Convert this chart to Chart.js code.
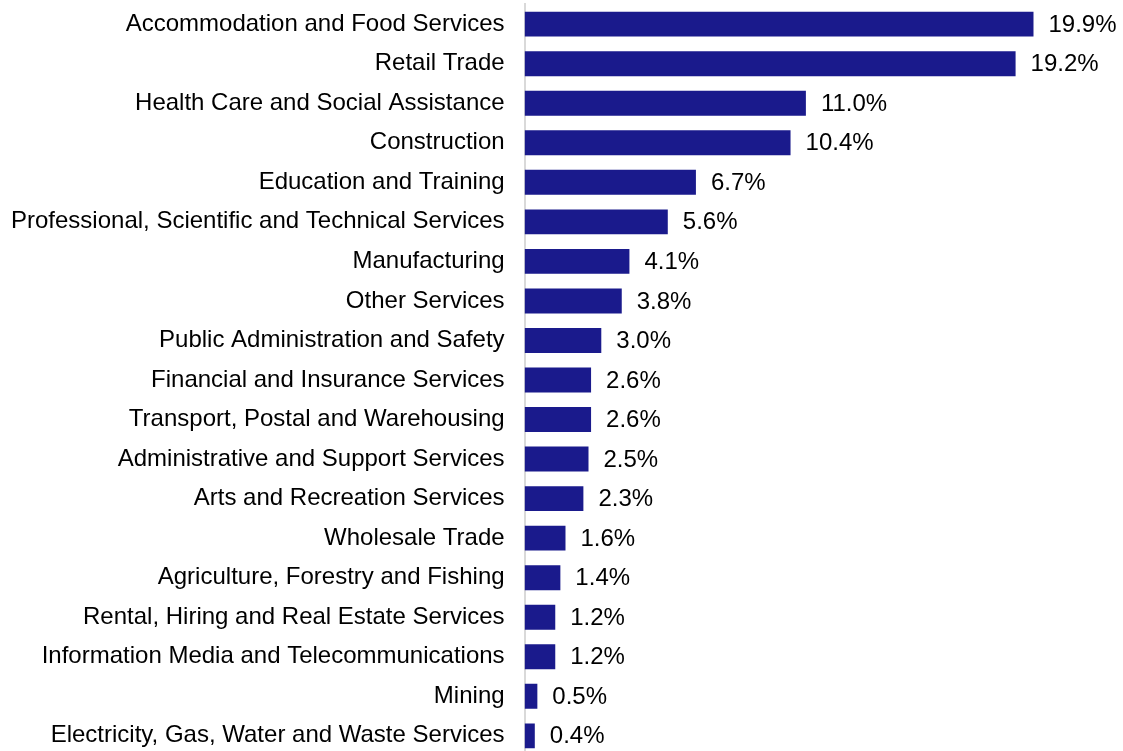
<!DOCTYPE html>
<html>
<head>
<meta charset="utf-8">
<script src="https://cdn.jsdelivr.net/npm/chart.js@4"></script>
<style>
  html, body { margin: 0; padding: 0; background: #fff; overflow: hidden; }
  #wrap { width: 1132px; height: 820px; position: relative; margin-top: -30px; margin-left: -9px; }
</style>
</head>
<body>
<div id="wrap"><canvas id="graphCanvas"></canvas></div>
<script>
// Share of employment by industry (%)
const industries = [
    'Accommodation and Food Services',
    'Retail Trade',
    'Health Care and Social Assistance',
    'Construction',
    'Education and Training',
    'Professional, Scientific and Technical Services',
    'Manufacturing',
    'Other Services',
    'Public Administration and Safety',
    'Financial and Insurance Services',
    'Transport, Postal and Warehousing',
    'Administrative and Support Services',
    'Arts and Recreation Services',
    'Wholesale Trade',
    'Agriculture, Forestry and Fishing',
    'Rental, Hiring and Real Estate Services',
    'Information Media and Telecommunications',
    'Mining',
    'Electricity, Gas, Water and Waste Services'
];
const shares = [19.9, 19.2, 11.0, 10.4, 6.7, 5.6, 4.1, 3.8, 3.0, 2.6, 2.6, 2.5, 2.3, 1.6, 1.4, 1.2, 1.2, 0.5, 0.4];

// draw the value at the end of each bar
const valueLabels = {
    id: 'valueLabels',
    afterDatasetsDraw(chart) {
        const ctx = chart.ctx;
        const meta = chart.getDatasetMeta(0);
        ctx.save();
        ctx.font = '24px "Liberation Sans", Arial, sans-serif';
        ctx.fillStyle = '#000';
        ctx.textAlign = 'left';
        ctx.textBaseline = 'middle';
        meta.data.forEach(function (bar, i) {
            ctx.fillText(shares[i].toFixed(1) + '%', bar.x + 15, bar.y + 1);
        });
        ctx.restore();
    }
};

const ctx = document.getElementById('graphCanvas').getContext('2d');
const myChart = new Chart(ctx, {
    type: 'bar',
    data: {
        labels: industries,
        datasets: [{
            data: shares,
            backgroundColor: '#1a1a8c',
            barPercentage: 0.63,
            categoryPercentage: 1.0
        }]
    },
    options: {
        indexAxis: 'y',
        responsive: true,
        maintainAspectRatio: false,
        animation: false,
        layout: { padding: { top: 4, right: 0, left: 0, bottom: 0 } },
        plugins: {
            legend: { display: false },
            tooltip: { enabled: false }
        },
        scales: {
            x: {
                display: false,
                min: 0,
                max: 23.4
            },
            y: {
                grid: { display: false, drawTicks: false },
                border: { display: true, color: '#d9d9d9', width: 2 },
                ticks: {
                    color: '#000',
                    padding: 20,
                    autoSkip: false,
                    font: { family: '"Liberation Sans", Arial, sans-serif', size: 24 }
                }
            }
        }
    },
    plugins: [valueLabels]
});
</script>
</body>
</html>
